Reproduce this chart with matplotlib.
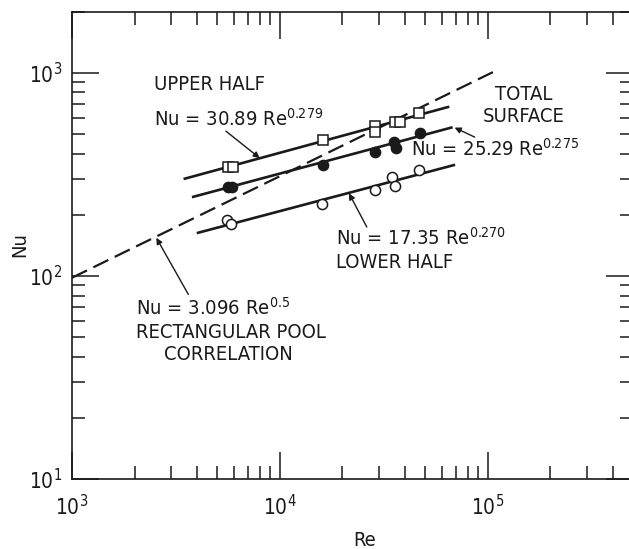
import matplotlib
matplotlib.use("Agg")
import matplotlib.pyplot as plt
from matplotlib.ticker import LogLocator, NullFormatter, LogFormatterSciNotation

# ---------------- data ----------------
upper_re = [5600, 5950, 16100, 28800, 28800, 35700, 37800, 46800]
upper_nu = [344, 344, 466, 546, 512, 574, 574, 635]

total_re = [5600, 5900, 16100, 28800, 35300, 36300, 47000]
total_nu = [274, 274, 351, 408, 457, 425, 506]

lower_re = [5540, 5850, 15950, 28800, 34700, 36000, 46800]
lower_nu = [188, 181, 225, 264, 305, 277, 332]

# correlation lines (end points)
upper_fit_re = [3490, 64400]
upper_fit_nu = [301, 678]
total_fit_re = [3830, 66800]
total_fit_nu = [245, 537]
lower_fit_re = [4040, 68700]
lower_fit_nu = [163, 351]
pool_fit_re = [1000, 108000]
pool_fit_nu = [97.9, 1017]

x_limits = (1e3, 5e5)
y_limits = (10, 2000)

# ---------------- style ----------------
ink = "#1a1a1a"
plt.rcParams["font.family"] = ["DejaVu Sans"]
plt.rcParams["font.stretch"] = "condensed"
plt.rcParams["mathtext.fontset"] = "dejavusans"

fig = plt.figure(figsize=(6.29, 5.49), dpi=100)
W, H = 629.0, 549.0
ax = fig.add_axes([72 / W, 70 / H, 561 / W, 467.4 / H])
ax.set_xscale("log")
ax.set_yscale("log")
ax.set_xlim(*x_limits)
ax.set_ylim(*y_limits)

for s in ax.spines.values():
    s.set_linewidth(1.2)
    s.set_color(ink)

ax.xaxis.set_major_locator(LogLocator(base=10, numticks=20))
ax.yaxis.set_major_locator(LogLocator(base=10, numticks=20))
ax.xaxis.set_minor_locator(LogLocator(base=10, subs=range(2, 10), numticks=50))
ax.yaxis.set_minor_locator(LogLocator(base=10, subs=range(2, 10), numticks=50))
ax.xaxis.set_minor_formatter(NullFormatter())
ax.yaxis.set_minor_formatter(NullFormatter())
ax.xaxis.set_major_formatter(LogFormatterSciNotation())
ax.yaxis.set_major_formatter(LogFormatterSciNotation())

ax.tick_params(which="both", direction="in", top=True, right=True,
               color=ink, width=1.1, labelcolor=ink)
ax.tick_params(which="major", length=19.5, labelsize=15)
ax.tick_params(which="minor", length=9.5)
ax.tick_params(axis="x", which="major", pad=11)
ax.tick_params(axis="y", which="major", pad=7)

# ---------------- lines ----------------
lw = 1.9
ax.plot(pool_fit_re, pool_fit_nu, color=ink, lw=1.6, dashes=(7.5, 3.2), zorder=2)
ax.plot(upper_fit_re, upper_fit_nu, color=ink, lw=lw, zorder=2)
ax.plot(total_fit_re, total_fit_nu, color=ink, lw=lw, zorder=2)
ax.plot(lower_fit_re, lower_fit_nu, color=ink, lw=lw, zorder=2)

# ---------------- markers ----------------
ax.plot(upper_re, upper_nu, ls="none", marker="s", ms=7.4, mfc="white",
        mec=ink, mew=1.1, zorder=3)
ax.plot(total_re, total_nu, ls="none", marker="o", ms=7.3, mfc=ink,
        mec=ink, mew=1.1, zorder=3)
ax.plot(lower_re, lower_nu, ls="none", marker="o", ms=7.3, mfc="white",
        mec=ink, mew=1.1, zorder=3)

# ---------------- annotations ----------------
fs = 14.5
def axf(px, py):
    return ((px - 72) / 561.0, (479 - py) / 467.4)

def txt(px, py, s, ha="left"):
    x, y = axf(px, py)
    ax.text(x, y, s, transform=ax.transAxes, ha=ha, va="center",
            fontsize=fs, color=ink)

txt(154, 84, "UPPER HALF")
txt(154, 119, r"Nu = 30.89 Re$^{\mathdefault{0.279}}$")
txt(524, 95, "TOTAL", ha="center")
txt(524, 116, "SURFACE", ha="center")
txt(411, 149, r"Nu = 25.29 Re$^{\mathdefault{0.275}}$")
txt(336, 238, r"Nu = 17.35 Re$^{\mathdefault{0.270}}$")
txt(336, 262, "LOWER HALF")
txt(136, 308, r"Nu = 3.096 Re$^{\mathdefault{0.5}}$")
txt(231, 333, "RECTANGULAR POOL", ha="center")
txt(228, 355, "CORRELATION", ha="center")

arrow = dict(arrowstyle="-|>", color=ink, lw=1.0, mutation_scale=9,
             shrinkA=0, shrinkB=0)
ax.annotate("", xy=(8000, 380), xytext=(5500, 516), arrowprops=arrow)
ax.annotate("", xy=(69300, 537), xytext=(86600, 482), arrowprops=arrow)
ax.annotate("", xy=(21500, 255), xytext=(26200, 174), arrowprops=arrow)
ax.annotate("", xy=(2545, 154), xytext=(3630, 81), arrowprops=arrow)

fig.text(20 / W, 1 - 245 / H, "Nu", rotation=90, ha="center", va="center",
         fontsize=fs, color=ink)
fig.text(365 / W, 1 - 541 / H, "Re", ha="center", va="center",
         fontsize=fs, color=ink)

fig.savefig("out.png", dpi=100, facecolor="white")
